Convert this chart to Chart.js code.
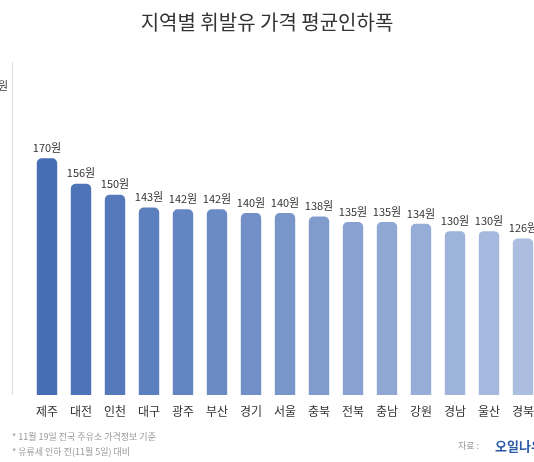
<!DOCTYPE html>
<html><head><meta charset="utf-8">
<script src="https://cdn.jsdelivr.net/npm/chart.js@4"></script>
<style>html,body{margin:0;padding:0;background:#fff;overflow:hidden;width:534px;height:462px}
#w{position:relative;width:560px;height:462px}</style></head>
<body><div id="w"><canvas id="c" width="560" height="462"></canvas></div>
<script>
const categories=["제주","대전","인천","대구","광주","부산","경기","서울","충북","전북","충남","강원","경남","울산","경북"];
const values=[170,156,150,143,142,142,140,140,138,135,135,134,130,130,126];
const valueLabels=values.map(v=>v+"원");
const colors=values.map((v,i)=>{const t=i/14;const a=[70,110,180],b=[172,190,224];return `rgb(${Math.round(a[0]+(b[0]-a[0])*t)},${Math.round(a[1]+(b[1]-a[1])*t)},${Math.round(a[2]+(b[2]-a[2])*t)})`;});
const deco={id:'deco',afterDraw(ch){const c=ch.ctx;c.save();
c.fillStyle='#333';c.font='20px "Noto Sans CJK KR"';c.textAlign='center';c.textBaseline='middle';c.fillText('지역별 휘발유 가격 평균인하폭',267,22);
c.strokeStyle='#ddd';c.lineWidth=1;c.beginPath();c.moveTo(12.5,62);c.lineTo(12.5,395);c.stroke();
c.fillStyle='#444';c.font='11px "Noto Sans CJK KR"';c.textAlign='right';c.fillText('원',8,86);
const m=ch.getDatasetMeta(0);c.textAlign='center';c.textBaseline='bottom';c.font='11px "Noto Sans CJK KR"';c.fillStyle='#333';
m.data.forEach((b,i)=>c.fillText(valueLabels[i],b.x,b.y-5));
c.textBaseline='middle';c.font='12px "Noto Sans CJK KR"';m.data.forEach((b,i)=>c.fillText(categories[i],b.x,411));
c.textAlign='left';c.fillStyle='#999';c.font='9px "Noto Sans CJK KR"';
c.fillText('* 11월 19일 전국 주유소 가격정보 기준',12,437);c.fillText('* 유류세 인하 전(11월 5일) 대비',12,452);
c.fillText('자료 :',458,446);c.fillStyle='#2b5aa8';c.font='bold 13px "Noto Sans CJK KR"';c.fillText('오일나우',495,446);
c.restore();}};
new Chart(document.getElementById('c'),{type:'bar',data:{labels:categories,datasets:[{data:values,backgroundColor:colors,borderRadius:{topLeft:5,topRight:5},borderSkipped:'bottom',barPercentage:0.6,categoryPercentage:1}]},
options:{responsive:false,animation:false,layout:{padding:{left:30,right:20,top:60,bottom:67}},plugins:{legend:{display:false},tooltip:{enabled:false}},
scales:{x:{display:false},y:{display:false,min:40,max:224}}},plugins:[deco]});
</script></body></html>
